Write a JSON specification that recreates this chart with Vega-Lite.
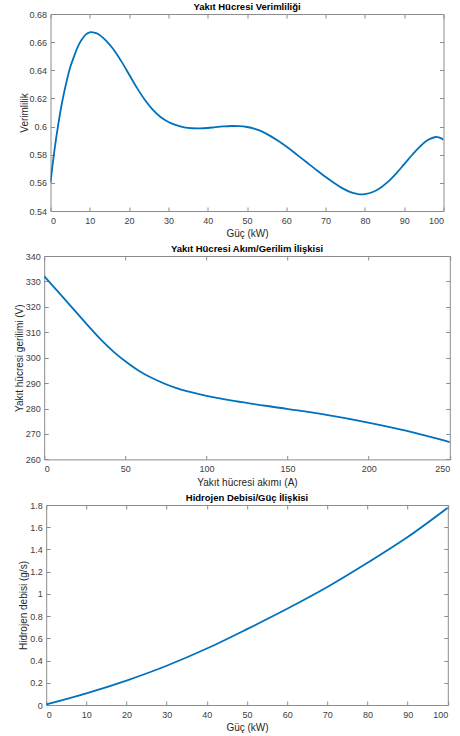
{
  "$schema": "https://vega.github.io/schema/vega-lite/v6.json",
  "background": "white",
  "padding": {"left": 13, "top": 1, "right": 2, "bottom": 0},
  "bounds": "flush",
  "center": true,
  "spacing": 45,
  "config": {
    "font": "Liberation Sans",
    "view": {"stroke": "#8c8c8c", "strokeWidth": 1},
    "title": {"fontSize": 9.5, "fontWeight": "bold", "color": "#000000", "font": "Liberation Sans"},
    "axis": {
      "grid": false,
      "domain": false,
      "tickSize": -4,
      "tickColor": "#8c8c8c",
      "tickWidth": 1,
      "labelFontSize": 9,
      "labelColor": "#404040",
      "labelFont": "Liberation Sans",
      "titleFont": "Liberation Sans",
      "titleFontSize": 10,
      "titleFontWeight": "normal",
      "titleColor": "#262626"
    },
    "axisBottom": {"labelPadding": 9.5, "titleY": 22.6, "titleBaseline": "middle"},
    "axisLeft": {"labelPadding": 8, "titleBaseline": "middle"}
  },
  "datasets": {
    "eff": [
      {"guc": 0, "verim": 0.5602}, {"guc": 1, "verim": 0.583}, {"guc": 2, "verim": 0.602},
      {"guc": 3, "verim": 0.618}, {"guc": 4, "verim": 0.631}, {"guc": 5, "verim": 0.642},
      {"guc": 6, "verim": 0.65}, {"guc": 7, "verim": 0.657}, {"guc": 8, "verim": 0.662},
      {"guc": 9, "verim": 0.6655}, {"guc": 10, "verim": 0.667}, {"guc": 11, "verim": 0.6668},
      {"guc": 12, "verim": 0.666}, {"guc": 14, "verim": 0.6615}, {"guc": 16, "verim": 0.655},
      {"guc": 18, "verim": 0.6465}, {"guc": 20, "verim": 0.637}, {"guc": 22, "verim": 0.6275},
      {"guc": 24, "verim": 0.619}, {"guc": 26, "verim": 0.612}, {"guc": 28, "verim": 0.6068},
      {"guc": 30, "verim": 0.6033}, {"guc": 32, "verim": 0.601}, {"guc": 34, "verim": 0.5995},
      {"guc": 36, "verim": 0.5988}, {"guc": 38, "verim": 0.5987}, {"guc": 40, "verim": 0.599},
      {"guc": 42, "verim": 0.5996}, {"guc": 44, "verim": 0.6001}, {"guc": 46, "verim": 0.6004},
      {"guc": 48, "verim": 0.6003}, {"guc": 50, "verim": 0.5997}, {"guc": 52, "verim": 0.5984},
      {"guc": 54, "verim": 0.5962}, {"guc": 56, "verim": 0.5932}, {"guc": 58, "verim": 0.5897},
      {"guc": 60, "verim": 0.5858}, {"guc": 62, "verim": 0.5816}, {"guc": 64, "verim": 0.5772},
      {"guc": 66, "verim": 0.5728}, {"guc": 68, "verim": 0.5684}, {"guc": 70, "verim": 0.5642},
      {"guc": 72, "verim": 0.5602}, {"guc": 74, "verim": 0.5566}, {"guc": 76, "verim": 0.5538},
      {"guc": 78, "verim": 0.5522}, {"guc": 79, "verim": 0.5518}, {"guc": 80, "verim": 0.552},
      {"guc": 82, "verim": 0.5535}, {"guc": 84, "verim": 0.5566}, {"guc": 86, "verim": 0.561},
      {"guc": 88, "verim": 0.5668}, {"guc": 90, "verim": 0.5733}, {"guc": 92, "verim": 0.5798},
      {"guc": 94, "verim": 0.5858}, {"guc": 96, "verim": 0.5904}, {"guc": 98, "verim": 0.5926},
      {"guc": 99, "verim": 0.5921}, {"guc": 100, "verim": 0.5906}
    ],
    "vi": [
      {"akim": 0, "gerilim": 332.1}, {"akim": 7.5, "gerilim": 326.7}, {"akim": 15.7, "gerilim": 320.8},
      {"akim": 25.9, "gerilim": 313.4}, {"akim": 36.2, "gerilim": 306.3}, {"akim": 43, "gerilim": 302.2},
      {"akim": 50, "gerilim": 298.6}, {"akim": 58, "gerilim": 295.0}, {"akim": 66.8, "gerilim": 291.9},
      {"akim": 81.1, "gerilim": 288.1}, {"akim": 99.4, "gerilim": 285.1},
      {"akim": 117.8, "gerilim": 282.9}, {"akim": 149.5, "gerilim": 279.9}, {"akim": 174, "gerilim": 277.5},
      {"akim": 198.9, "gerilim": 274.6}, {"akim": 223.6, "gerilim": 271.2}, {"akim": 250, "gerilim": 266.8}
    ],
    "h2": [
      {"guc": 0, "debi": 0.005}, {"guc": 10, "debi": 0.105}, {"guc": 20, "debi": 0.22},
      {"guc": 30, "debi": 0.353}, {"guc": 40, "debi": 0.508}, {"guc": 50, "debi": 0.683},
      {"guc": 60, "debi": 0.866}, {"guc": 70, "debi": 1.062}, {"guc": 80, "debi": 1.28},
      {"guc": 90, "debi": 1.512}, {"guc": 100, "debi": 1.776}
    ]
  },
  "vconcat": [
    {
      "title": {"text": "Yakıt Hücresi Verimliliği", "offset": -1, "frame": "group"},
      "width": 393,
      "height": 197,
      "data": {"name": "eff"},
      "layer": [
        {
          "mark": {"type": "line", "color": "#0072BD", "strokeWidth": 1.8, "interpolate": "catmull-rom", "clip": true},
          "encoding": {
            "x": {"field": "guc", "type": "quantitative", "scale": {"domain": [0, 100], "nice": false, "zero": false},
                  "axis": {"title": "Güç (kW)", "values": [0, 10, 20, 30, 40, 50, 60, 70, 80, 90, 100]}},
            "y": {"field": "verim", "type": "quantitative", "scale": {"domain": [0.54, 0.68], "nice": false, "zero": false},
                  "axis": {"title": "Verimlilik", "titleX": -26, "values": [0.54, 0.56, 0.58, 0.6, 0.62, 0.64, 0.66, 0.68], "format": ".2~f"}}
          }
        },
        {
          "mark": {"type": "line", "strokeOpacity": 0},
          "encoding": {
            "x": {"field": "guc", "type": "quantitative", "scale": {"domain": [0, 100], "nice": false, "zero": false},
                  "axis": {"orient": "top", "labels": false, "title": null, "values": [0, 10, 20, 30, 40, 50, 60, 70, 80, 90, 100]}},
            "y": {"field": "verim", "type": "quantitative", "scale": {"domain": [0.54, 0.68], "nice": false, "zero": false},
                  "axis": {"orient": "right", "labels": false, "title": null, "values": [0.54, 0.56, 0.58, 0.6, 0.62, 0.64, 0.66, 0.68]}}
          }
        }
      ],
      "resolve": {"axis": {"x": "independent", "y": "independent"}}
    },
    {
      "title": {"text": "Yakıt Hücresi Akım/Gerilim İlişkisi", "offset": -1, "frame": "group"},
      "width": 405.6,
      "height": 203.4,
      "data": {"name": "vi"},
      "layer": [
        {
          "mark": {"type": "line", "color": "#0072BD", "strokeWidth": 1.8, "interpolate": "catmull-rom", "clip": true},
          "encoding": {
            "x": {"field": "akim", "type": "quantitative", "scale": {"domain": [0, 250], "nice": false, "zero": false},
                  "axis": {"title": "Yakıt hücresi akımı (A)", "values": [0, 50, 100, 150, 200, 250]}},
            "y": {"field": "gerilim", "type": "quantitative", "scale": {"domain": [260, 340], "nice": false, "zero": false},
                  "axis": {"title": "Yakıt hücresi gerilimi (V)", "titleX": -25, "values": [260, 270, 280, 290, 300, 310, 320, 330, 340]}}
          }
        },
        {
          "mark": {"type": "line", "strokeOpacity": 0},
          "encoding": {
            "x": {"field": "akim", "type": "quantitative", "scale": {"domain": [0, 250], "nice": false, "zero": false},
                  "axis": {"orient": "top", "labels": false, "title": null, "values": [0, 50, 100, 150, 200, 250]}},
            "y": {"field": "gerilim", "type": "quantitative", "scale": {"domain": [260, 340], "nice": false, "zero": false},
                  "axis": {"orient": "right", "labels": false, "title": null, "values": [260, 270, 280, 290, 300, 310, 320, 330, 340]}}
          }
        }
      ],
      "resolve": {"axis": {"x": "independent", "y": "independent"}}
    },
    {
      "title": {"text": "Hidrojen Debisi/Güç İlişkisi", "offset": -1, "frame": "group"},
      "width": 401.6,
      "height": 200,
      "data": {"name": "h2"},
      "layer": [
        {
          "mark": {"type": "line", "color": "#0072BD", "strokeWidth": 1.8, "interpolate": "catmull-rom", "clip": true},
          "encoding": {
            "x": {"field": "guc", "type": "quantitative", "scale": {"domain": [0, 100], "nice": false, "zero": false},
                  "axis": {"title": "Güç (kW)", "titleY": 22, "values": [0, 10, 20, 30, 40, 50, 60, 70, 80, 90, 100]}},
            "y": {"field": "debi", "type": "quantitative", "scale": {"domain": [0, 1.8], "nice": false, "zero": false},
                  "axis": {"title": "Hidrojen debisi (g/s)", "titleX": -23, "values": [0, 0.2, 0.4, 0.6, 0.8, 1, 1.2, 1.4, 1.6, 1.8], "format": ".1~f"}}
          }
        },
        {
          "mark": {"type": "line", "strokeOpacity": 0},
          "encoding": {
            "x": {"field": "guc", "type": "quantitative", "scale": {"domain": [0, 100], "nice": false, "zero": false},
                  "axis": {"orient": "top", "labels": false, "title": null, "values": [0, 10, 20, 30, 40, 50, 60, 70, 80, 90, 100]}},
            "y": {"field": "debi", "type": "quantitative", "scale": {"domain": [0, 1.8], "nice": false, "zero": false},
                  "axis": {"orient": "right", "labels": false, "title": null, "values": [0, 0.2, 0.4, 0.6, 0.8, 1, 1.2, 1.4, 1.6, 1.8]}}
          }
        }
      ],
      "resolve": {"axis": {"x": "independent", "y": "independent"}}
    }
  ]
}
